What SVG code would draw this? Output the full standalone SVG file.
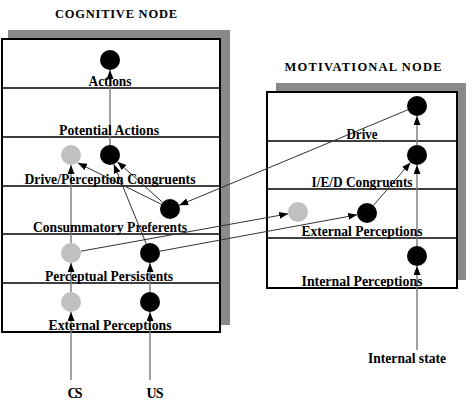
<svg xmlns="http://www.w3.org/2000/svg" width="476" height="411" viewBox="0 0 476 411">
<style>
.shadow{fill:#8a8a8a}
.box{fill:#fff;stroke:#000;stroke-width:2}
.row{stroke:#000;stroke-width:1.6}
.lbl{font-family:"Liberation Serif","Times New Roman",serif;font-weight:bold;font-size:14px;text-anchor:middle;fill:#000}
.title{font-family:"Liberation Serif","Times New Roman",serif;font-weight:bold;font-size:12.5px;text-anchor:middle;fill:#000}
.v{stroke:#7a7a7a;stroke-width:1.4;fill:none;marker-end:url(#arr)}
.d{stroke:#333;stroke-width:1;fill:none;marker-end:url(#arr)}
.blk{fill:#000}
.gry{fill:#c0c0c0}
</style>
<defs>
<marker id="arr" markerUnits="userSpaceOnUse" markerWidth="10" markerHeight="8" refX="9" refY="3.5" orient="auto">
<path d="M0,0 L9,3.5 L0,7 z" fill="#000"/>
</marker>
</defs>
<rect width="476" height="411" fill="#fff"/>
<g id="cognitive-node">
<rect class="shadow" x="8" y="30" width="222" height="295"/>
<rect class="box" x="2" y="39" width="218" height="293"/>
<line class="row" x1="2" y1="88" x2="220" y2="88"/>
<line class="row" x1="2" y1="137" x2="220" y2="137"/>
<line class="row" x1="2" y1="186" x2="220" y2="186"/>
<line class="row" x1="2" y1="234" x2="220" y2="234"/>
<line class="row" x1="2" y1="283" x2="220" y2="283"/>
<text class="title" x="116" y="18" textLength="122" lengthAdjust="spacing">COGNITIVE NODE</text>
</g>
<g id="motivational-node">
<rect class="shadow" x="276" y="83" width="190" height="197"/>
<rect class="box" x="267" y="92" width="190" height="196"/>
<line class="row" x1="267" y1="141" x2="457" y2="141"/>
<line class="row" x1="267" y1="189" x2="457" y2="189"/>
<line class="row" x1="267" y1="238" x2="457" y2="238"/>
<text class="title" x="363" y="71" textLength="157" lengthAdjust="spacing">MOTIVATIONAL NODE</text>
</g>
<g id="connectors">
<line class="v" x1="71" y1="380" x2="71" y2="312"/>
<line class="v" x1="71" y1="292" x2="71" y2="263"/>
<line class="v" x1="71" y1="243" x2="71" y2="165"/>
<line class="v" x1="150" y1="380" x2="150" y2="312"/>
<line class="v" x1="150" y1="292" x2="150" y2="263"/>
<line class="v" x1="110" y1="145" x2="110" y2="70"/>
<line class="d" x1="146.2" y1="243.7" x2="113.8" y2="164.3"/>
<line class="d" x1="161.2" y1="204.2" x2="78" y2="163"/>
<line class="d" x1="162.6" y1="202.3" x2="117.4" y2="161.7"/>
<line class="d" x1="407.8" y1="109.8" x2="179.2" y2="205.2"/>
<line class="d" x1="80.8" y1="251.2" x2="288.2" y2="213.8"/>
<line class="d" x1="159.8" y1="251.2" x2="357.2" y2="214.8"/>
<line class="d" x1="373.5" y1="205.4" x2="410.5" y2="162.4"/>
<line class="v" x1="417" y1="350" x2="417" y2="266"/>
<line class="v" x1="417" y1="246" x2="417" y2="165"/>
<line class="v" x1="417" y1="145" x2="417" y2="116"/>
</g>
<g id="cog-actions"><circle class="blk" cx="110" cy="60" r="10"/></g>
<g id="cog-drive-gray"><circle class="gry" cx="71" cy="155" r="10"/></g>
<g id="cog-drive-black"><circle class="blk" cx="110" cy="155" r="10"/></g>
<g id="cog-consummatory"><circle class="blk" cx="170" cy="209" r="10"/></g>
<g id="cog-persist-gray"><circle class="gry" cx="71" cy="253" r="10"/></g>
<g id="cog-persist-black"><circle class="blk" cx="150" cy="253" r="10"/></g>
<g id="cog-ext-gray"><circle class="gry" cx="71" cy="302" r="10"/></g>
<g id="cog-ext-black"><circle class="blk" cx="150" cy="302" r="10"/></g>
<g id="mot-drive"><circle class="blk" cx="417" cy="106" r="10"/></g>
<g id="mot-ied"><circle class="blk" cx="417" cy="155" r="10"/></g>
<g id="mot-ext-gray"><circle class="gry" cx="298" cy="212" r="10"/></g>
<g id="mot-ext-black"><circle class="blk" cx="367" cy="213" r="10"/></g>
<g id="mot-internal"><circle class="blk" cx="417" cy="256" r="10"/></g>
<g id="labels">
<text class="lbl" x="110" y="86" textLength="43" lengthAdjust="spacingAndGlyphs">Actions</text>
<text class="lbl" x="109" y="135" textLength="100" lengthAdjust="spacingAndGlyphs">Potential Actions</text>
<text class="lbl" x="110" y="184" textLength="171" lengthAdjust="spacingAndGlyphs">Drive/Perception Congruents</text>
<text class="lbl" x="110" y="232" textLength="154" lengthAdjust="spacingAndGlyphs">Consummatory Preferents</text>
<text class="lbl" x="109" y="281" textLength="128" lengthAdjust="spacingAndGlyphs">Perceptual Persistents</text>
<text class="lbl" x="110" y="330" textLength="123" lengthAdjust="spacingAndGlyphs">External Perceptions</text>
<text class="lbl" x="362" y="139" textLength="31" lengthAdjust="spacingAndGlyphs">Drive</text>
<text class="lbl" x="362" y="187" textLength="101" lengthAdjust="spacingAndGlyphs">I/E/D Congruents</text>
<text class="lbl" x="362" y="236" textLength="121" lengthAdjust="spacingAndGlyphs">External Perceptions</text>
<text class="lbl" x="362" y="286" textLength="121" lengthAdjust="spacingAndGlyphs">Internal Perceptions</text>
<text class="lbl" x="407" y="363" textLength="78" lengthAdjust="spacingAndGlyphs">Internal state</text>
<text class="lbl" x="75" y="398" textLength="15" lengthAdjust="spacing">CS</text>
<text class="lbl" x="155" y="398" textLength="17" lengthAdjust="spacing">US</text>
</g>
</svg>
